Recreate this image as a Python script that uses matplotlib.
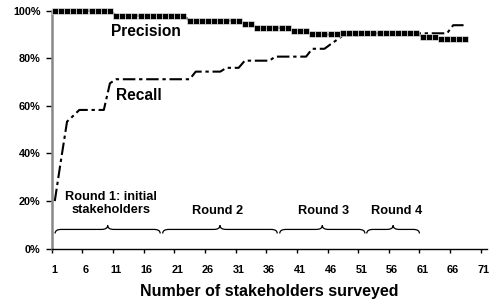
import numpy as np
import matplotlib
matplotlib.use("Agg")
import matplotlib.pyplot as plt
from matplotlib.path import Path
from matplotlib.patches import PathPatch

plt.rcParams['font.family'] = ['Liberation Sans', 'DejaVu Sans']
plt.rcParams['font.weight'] = 'bold'

# ---- data ----
precision = ([100.0] * 10 + [97.9] * 12 + [95.8] * 9 + [94.5] * 2 + [92.8] * 6 +
             [91.4] * 3 + [90.0] * 5 + [90.5] * 13 + [89.1] * 3 + [88.0] * 5)
recall = ([20.0, 37.0, 53.4, 55.8] + [58.3] * 5 + [69.5] + [71.2] * 13 + [74.4] * 5 +
          [76.0] * 3 + [79.0] * 5 + [80.7] * 6 + [84.0] * 3 + [85.9, 87.7] +
          [89.6] * 4 + [90.5] * 14 + [93.9] * 3)
surveyed = list(range(1, len(precision) + 1))
tick_labels = [str(v) for v in range(1, 72, 5)]
yticks = [0, 20, 40, 60, 80, 100]
rounds = ["Round 1: initial\nstakeholders", "Round 2", "Round 3", "Round 4"]
round_spans = [(1.05, 18.2), (18.6, 37.3), (37.7, 51.6), (51.9, 60.5)]

fig = plt.figure(figsize=(4.93, 3.03), dpi=100)
ax = fig.add_axes([0.1049, 0.1792, 0.8827, 0.7855])

ax.plot(surveyed, precision, color='black', lw=1.6, marker='s', markersize=3.8,
        markerfacecolor='black', markeredgecolor='white', markeredgewidth=0.4,
        clip_on=False, zorder=4)
ax.plot(surveyed, recall, color='black', lw=1.5, ls=(0, (6, 1.8, 1.6, 1.8)),
        clip_on=False, zorder=3)

ax.set_xlim(0.5, 71.5)
ax.set_ylim(0, 100)

# x ticks: marks between categories, labels on categories
ax.set_xticks(np.arange(0.5, 71, 5))
ax.set_xticklabels([])
ax.set_xticks(range(1, 72, 5), minor=True)
ax.set_xticklabels(tick_labels, minor=True)
ax.tick_params(axis='x', which='major', length=3, width=1, direction='out', color='black')
ax.tick_params(axis='x', which='minor', length=0, pad=12, labelsize=7.8)
ax.set_yticks(yticks)
ax.set_yticklabels([f"{v}%" for v in yticks])
ax.tick_params(axis='y', length=4, width=1, direction='out', color='black', pad=4,
               labelsize=7.8)

for s in ['top', 'right']:
    ax.spines[s].set_visible(False)
ax.spines['left'].set_color('#888888')
ax.spines['left'].set_linewidth(1.8)
ax.spines['bottom'].set_color('black')
ax.spines['bottom'].set_linewidth(1.0)

ax.set_xlabel("Number of stakeholders surveyed", fontsize=11.5, fontweight='bold', labelpad=6)

ax.text(15.8, 91.2, "Precision", ha='center', va='center', fontsize=11.2, fontweight='bold')
ax.text(14.7, 64.2, "Recall", ha='center', va='center', fontsize=11.2, fontweight='bold')

# round labels
label_pos = [(10.2, 19.0), (27.5, 16.0), (44.8, 16.0), (56.7, 16.0)]
for txt, (x, y) in zip(rounds, label_pos):
    ax.text(x, y, txt, ha='center', va='center', fontsize=9.2, fontweight='bold',
            linespacing=1.2)

# braces
def brace(x0, x1, yb=6.4, ym=8.1, yt=9.8, r=1.0):
    xm = (x0 + x1) / 2
    verts = [(x0, yb), (x0, ym), (x0 + r, ym), (xm - r, ym), (xm, ym), (xm, yt),
             (xm, ym), (xm + r, ym), (x1 - r, ym), (x1, ym), (x1, yb)]
    codes = [Path.MOVETO, Path.CURVE3, Path.CURVE3, Path.LINETO, Path.CURVE3, Path.CURVE3,
             Path.CURVE3, Path.CURVE3, Path.LINETO, Path.CURVE3, Path.CURVE3]
    return PathPatch(Path(verts, codes), fill=False, lw=0.9, edgecolor='black')

for x0, x1 in round_spans:
    ax.add_patch(brace(x0, x1))

fig.savefig("out.png", dpi=100)
